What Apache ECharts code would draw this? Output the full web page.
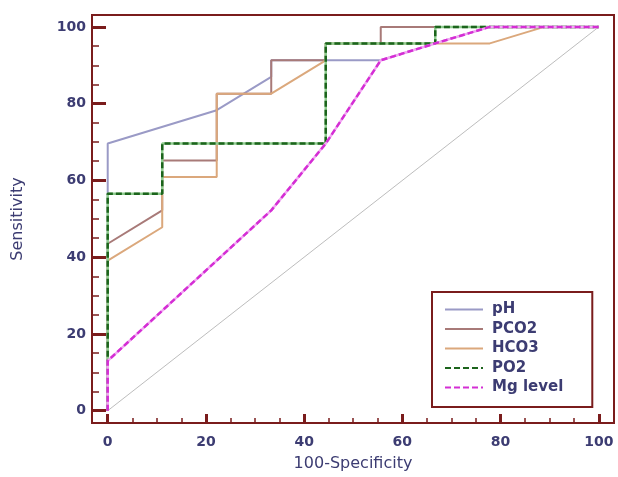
<!DOCTYPE html>
<html><head><meta charset="utf-8">
<script src="https://cdn.jsdelivr.net/npm/echarts@6/dist/echarts.min.js"></script>
<style>html,body{margin:0;padding:0;background:#fff}#c{width:618px;height:477px}</style>
</head><body><div id="c"></div>
<script>
// ROC curve points [100-Specificity, Sensitivity]
const pH    = [[0,0],[0,69.6],[22.2,78.3],[33.3,87],[33.3,91.3],[55.6,91.3],[66.7,95.7],[77.8,100],[100,100]];
const PCO2  = [[0,0],[0,43.5],[11.1,52.2],[11.1,65.2],[22.2,65.2],[22.2,82.6],[33.3,82.6],[33.3,91.3],[44.4,91.3],[44.4,95.7],[55.6,95.7],[55.6,100],[100,100]];
const HCO3  = [[0,0],[0,39.1],[11.1,47.8],[11.1,60.9],[22.2,60.9],[22.2,82.6],[33.3,82.6],[44.4,91.3],[44.4,95.7],[77.8,95.7],[88.9,100],[100,100]];
const PO2   = [[0,0],[0,56.5],[11.1,56.5],[11.1,69.6],[44.4,69.6],[44.4,95.7],[66.7,95.7],[66.7,100],[100,100]];
const Mg    = [[0,0],[0,13],[33.3,52.2],[44.4,69.6],[55.6,91.3],[66.7,95.7],[77.8,100],[100,100]];
const refLine = [[0,0],[100,100]];
const majorTicks = [0,20,40,60,80,100];
const minorTicks = [5,10,15,25,30,35,45,50,55,65,70,75,85,90,95];

const AX = '#7a1c1c', TXT = '#3c3c72';
const font = 'DejaVu Sans';
const chart = echarts.init(document.getElementById('c'), null, {renderer:'canvas'});
function axisPair(dim){
  const isX = dim==='x';
  const base = {type:'value', min:-3.2, max:103.1, splitLine:{show:false}, position: isX?'bottom':'left'};
  return [
    Object.assign({}, base, {
      axisLine:{show:true, onZero:false, lineStyle:{color:AX, width:2}},
      axisTick:{show:true, inside:true, customValues:majorTicks, length: isX?9:14, lineStyle:{color:AX, width:3}},
      axisLabel:{show:true, customValues:majorTicks, color:TXT, fontFamily:font, fontWeight:'bold', fontSize:14, margin: isX?12:6},
      name: isX?'100-Specificity':'Sensitivity', nameLocation:'middle', nameGap: isX?33:66,
      nameTextStyle:{color:TXT, fontFamily:font, fontSize:16}
    }),
    Object.assign({}, base, {
      axisLine:{show:false, onZero:false},
      axisTick:{show:true, inside:true, customValues:minorTicks, length: isX?5:7, lineStyle:{color:AX, width:1.5}},
      axisLabel:{show:false}
    })
  ];
}
const mk = (name, data, color, width, type, z) => ({
  name, type:'line', data, symbol:'none', z, xAxisIndex:0, yAxisIndex:0,
  lineStyle:{color, width, type}, itemStyle:{color}
});
chart.setOption({
  animation:false,
  backgroundColor:'#fff',
  grid:{left:92, right:4, top:15, bottom:52, show:true, borderColor:AX, borderWidth:2, backgroundColor:'transparent'},
  xAxis: axisPair('x'),
  yAxis: axisPair('y'),
  legend:{
    orient:'vertical', left:432, top:292, data:['pH','PCO2','HCO3','PO2','Mg level'],
    borderColor:AX, borderWidth:2, padding:[10,29,12,12], itemWidth:38, itemHeight:14, itemGap:4.5,
    itemStyle:{opacity:0},
    textStyle:{color:TXT, fontFamily:font, fontWeight:'bold', fontSize:15, lineHeight:14, padding:[0,0,0,4]}, backgroundColor:'#fff'
  },
  series:[
    {type:'line', data:refLine, symbol:'none', silent:true, lineStyle:{color:'#bdbdbd', width:1}, z:1},
    mk('pH', pH, '#9a9ac6', 2, 'solid', 2),
    mk('PCO2', PCO2, '#a87a78', 2, 'solid', 3),
    mk('HCO3', HCO3, '#dba87c', 2, 'solid', 4),
    {type:'line', data:PO2, symbol:'none', silent:true, lineStyle:{color:'#8fcc8f', width:2.5}, z:5},
    mk('PO2', PO2, '#1c641c', 2.5, [6,3], 6),
    {type:'line', data:Mg, symbol:'none', silent:true, lineStyle:{color:'#f2a6f2', width:2.5}, z:7},
    mk('Mg level', Mg, '#d42ed4', 2.5, [6,3], 8)
  ]
});
</script></body></html>
